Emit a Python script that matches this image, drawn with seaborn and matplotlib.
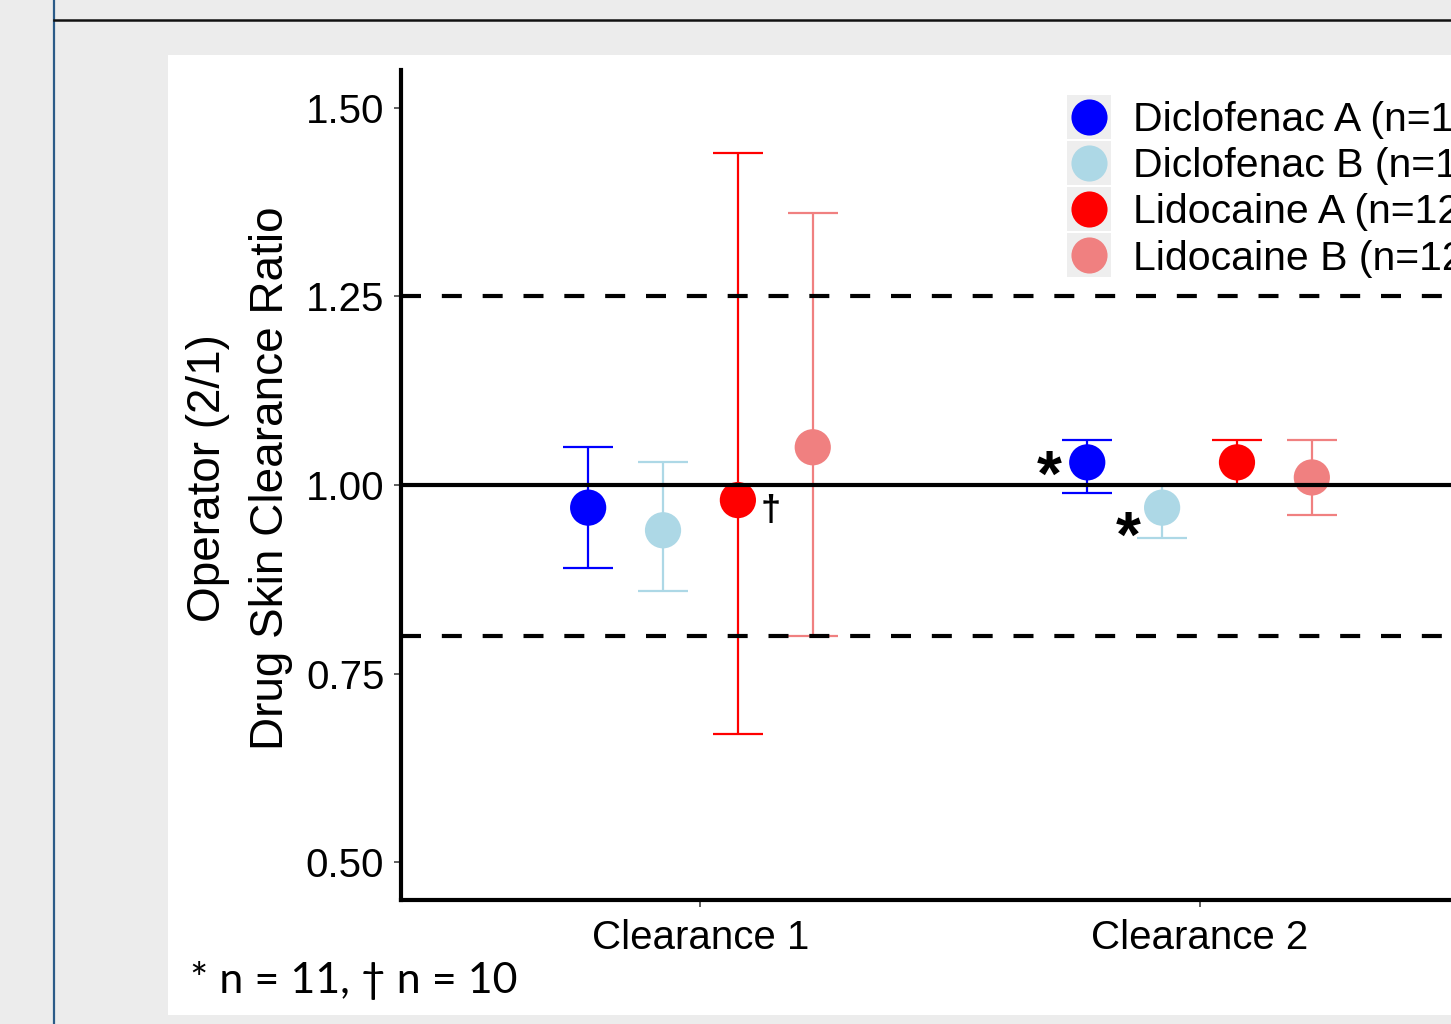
import numpy as np
import pandas as pd
import matplotlib
matplotlib.use("Agg")
import matplotlib.pyplot as plt
from matplotlib.patches import Rectangle
from matplotlib.lines import Line2D
import seaborn as sns

# ---------------- data ----------------
clearances = ["Clearance 1", "Clearance 2"]
groups = ["Diclofenac A (n=12)", "Diclofenac B (n=12)",
          "Lidocaine A (n=12)", "Lidocaine B (n=12)"]
colors = ["#0000FF", "#ADD8E6", "#FF0000", "#F08080"]

ratio_c1 = [0.97, 0.94, 0.98, 1.05]
lower_c1 = [0.89, 0.86, 0.67, 0.80]
upper_c1 = [1.05, 1.03, 1.44, 1.36]

ratio_c2 = [1.03, 0.97, 1.03, 1.01]
lower_c2 = [0.99, 0.93, 1.00, 0.96]
upper_c2 = [1.06, 1.00, 1.06, 1.06]

ref_solid = 1.00
ref_dashed = [1.25, 0.80]
yticks = [0.50, 0.75, 1.00, 1.25, 1.50]

footnote = "* n = 11, \u2020 n = 10"

# ---------------- build table ----------------
rows = []
for ci, (r, lo, hi) in enumerate([(ratio_c1, lower_c1, upper_c1),
                                  (ratio_c2, lower_c2, upper_c2)]):
    for gi, g in enumerate(groups):
        rows.append(dict(clearance=clearances[ci], ci=ci, gi=gi, group=g,
                         ratio=r[gi], lower=lo[gi], upper=hi[gi]))
df = pd.DataFrame(rows)
dodge = np.array([-0.225, -0.075, 0.075, 0.225])
df["pos"] = df["ci"] + dodge[df["gi"]]

# ---------------- figure ----------------
W, H = 1451, 1024
fig = plt.figure(figsize=(W / 100, H / 100), dpi=100)
fig.patch.set_facecolor("#ECECEC")

def fx(px):
    return px / W

def fy(py):
    return 1 - py / H

# slide decorations
fig.patches.append(Rectangle((fx(168), fy(1015)), fx(1451 - 168) + 0.01, (1015 - 55) / H,
                             transform=fig.transFigure, facecolor="white",
                             edgecolor="none", zorder=-2))
fig.lines.append(Line2D([fx(54), fx(54)], [0, 1], transform=fig.transFigure,
                        color="#2B5B88", lw=1.6, zorder=1))
fig.lines.append(Line2D([fx(54), 1.0], [fy(20), fy(20)], transform=fig.transFigure,
                        color="#111111", lw=1.8, zorder=1))

# legend key backgrounds
for i in range(4):
    top = 95 + 46 * i
    fig.patches.append(Rectangle((fx(1067), fy(top + 44)), 44 / W, 44 / H,
                                 transform=fig.transFigure, facecolor="#EEEEEE",
                                 edgecolor="none", zorder=-1))

ax = fig.add_axes([fx(401), fy(900), (1499 - 401) / W, (900 - 70) / H])
ax.set_facecolor("none")

sns.scatterplot(data=df, x="pos", y="ratio", hue="group", palette=colors,
                hue_order=groups, s=680, edgecolor="none", linewidth=0,
                legend=False, ax=ax, zorder=3, clip_on=False)

for gi, g in enumerate(groups):
    sub = df[df["gi"] == gi]
    ax.errorbar(sub["pos"], sub["ratio"],
                yerr=[sub["ratio"] - sub["lower"], sub["upper"] - sub["ratio"]],
                fmt="none", ecolor=colors[gi], elinewidth=1.6, capsize=18,
                capthick=1.6, zorder=2)

ax.axhline(ref_solid, color="black", lw=3.0, zorder=4)
for v in ref_dashed:
    ax.axhline(v, color="black", lw=3.0, dashes=(4.8, 5.0), zorder=4)

# annotations
ax.text(0.0 + 0.14, 0.9655, "\u2020", fontsize=26, fontweight="bold",
        ha="center", va="center",
        family=["Liberation Sans", "DejaVu Sans"], zorder=5)
ax.text(1.0 - 0.302, 1.008, "*", fontsize=46, fontweight="bold", ha="center",
        va="center", family=["Liberation Sans", "DejaVu Sans"], zorder=5)
ax.text(1.0 - 0.142, 0.928, "*", fontsize=46, fontweight="bold", ha="center",
        va="center", family=["Liberation Sans", "DejaVu Sans"], zorder=5)

ax.set_xlim(-0.6, 1.6)
ax.set_ylim(0.45, 1.55)
ax.set_xticks([0, 1])
ax.set_xticklabels(clearances)
ax.set_yticks(yticks)
ax.set_yticklabels([f"{t:.2f}" for t in yticks])
ax.set_xlabel("")
ax.set_ylabel("Operator (2/1)\nDrug Skin Clearance Ratio", fontsize=33,
              linespacing=1.56, family="Liberation Sans", labelpad=9)
ax.yaxis.label.set_y(0.508)

for s in ["top", "right"]:
    ax.spines[s].set_visible(False)
for s in ["left", "bottom"]:
    ax.spines[s].set_linewidth(3.0)
    ax.spines[s].set_color("black")
ax.tick_params(axis="both", length=5, width=1.2, color="#444444",
               labelsize=29, labelcolor="black")
ax.tick_params(axis="y", pad=7)
ax.tick_params(axis="x", pad=9)
for lab in ax.get_xticklabels() + ax.get_yticklabels():
    lab.set_family("Liberation Sans")

handles = [Line2D([], [], marker="o", ls="", color=c, markersize=26,
                  markeredgewidth=0) for c in colors]
leg = ax.legend(handles, groups, loc="upper left",
                bbox_to_anchor=(fx(1067), fy(101)), bbox_transform=fig.transFigure,
                frameon=False, prop={"family": "Liberation Sans", "size": 29.5},
                handlelength=1.07, handletextpad=0.53, labelspacing=0.2,
                borderpad=0, borderaxespad=0)
leg.set_zorder(6)

fig.text(fx(190), fy(980), footnote, fontsize=31, va="center", ha="left",
         family=["Lato", "DejaVu Sans"])

fig.savefig("out.png", dpi=100, facecolor=fig.get_facecolor())
